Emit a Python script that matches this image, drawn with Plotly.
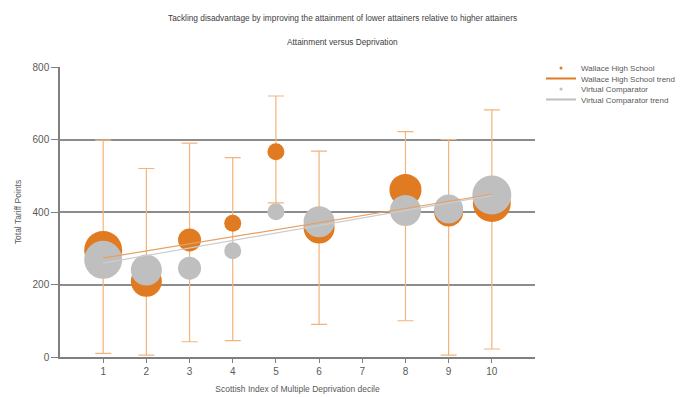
import plotly.graph_objects as go

# Attainment by SIMD decile: Wallace High School vs its Virtual Comparator
deciles = [1, 2, 3, 4, 5, 6, 8, 9, 10]

school_points = [295, 209, 323, 369, 566, 356, 461, 400, 425]
school_sizes = [38, 31, 23, 17, 17, 31, 32, 29, 38]

comparator_points = [268, 240, 245, 293, 401, 373, 404, 408, 447]
comparator_sizes = [38, 31, 23, 17, 17, 31, 31, 29, 39]

# spread of the school's results within each decile
range_high = [598, 520, 590, 550, 720, 568, 622, 600, 682]
range_low = [10, 5, 42, 45, 425, 90, 100, 5, 22]

# trend line end points (decile 1 and decile 10)
trend_x = [1, 10]
school_trend = [273, 449]
comparator_trend = [259, 446]

x_ticks = [1, 2, 3, 4, 5, 6, 7, 8, 9, 10]
y_ticks = [0, 200, 400, 600, 800]

ORANGE = "#E07B22"
GREY = "#BFBFBF"
BAR = "#F2B47C"
TEXT = "#595959"
FONT = "Liberation Sans, Arial, sans-serif"

fig = go.Figure()

# error bars sit underneath the bubbles
fig.add_trace(go.Scatter(
    x=deciles, y=school_points, mode="markers",
    marker=dict(size=1, opacity=0),
    error_y=dict(
        type="data", symmetric=False,
        array=[h - v for h, v in zip(range_high, school_points)],
        arrayminus=[v - l for v, l in zip(school_points, range_low)],
        color=BAR, thickness=1.2, width=8,
    ),
    showlegend=False, hoverinfo="skip",
))

fig.add_trace(go.Scatter(
    x=deciles, y=school_points, mode="markers",
    marker=dict(size=school_sizes, color=ORANGE, opacity=1, line=dict(width=0)),
    showlegend=False, name="Wallace High School",
))
fig.add_trace(go.Scatter(
    x=deciles, y=comparator_points, mode="markers",
    marker=dict(size=comparator_sizes, color=GREY, opacity=1, line=dict(width=0)),
    showlegend=False, name="Virtual Comparator",
))
fig.add_trace(go.Scatter(
    x=trend_x, y=comparator_trend, mode="lines",
    line=dict(color="#C9CDD2", width=1.2),
    showlegend=False, name="Virtual Comparator trend",
))
fig.add_trace(go.Scatter(
    x=trend_x, y=school_trend, mode="lines",
    line=dict(color="#E8A060", width=1.2),
    showlegend=False, name="Wallace High School trend",
))

# legend entries, one small legend per row to keep them tightly stacked
legend_rows = [
    ("Wallace High School", "markers", ORANGE),
    ("Wallace High School trend", "lines", ORANGE),
    ("Virtual Comparator", "markers", GREY),
    ("Virtual Comparator trend", "lines", GREY),
]
legend_ids = ["legend", "legend2", "legend3", "legend4"]
for (label, mode, col), lid in zip(legend_rows, legend_ids):
    kw = dict(marker=dict(size=3, color=col)) if mode == "markers" else dict(line=dict(color=col, width=2))
    fig.add_trace(go.Scatter(x=[None], y=[None], mode=mode, name=label,
                             legend=lid, showlegend=True, **kw))

legend_style = dict(
    xref="container", yref="container", xanchor="left", yanchor="middle",
    font=dict(family=FONT, size=8, color=TEXT),
    bgcolor="rgba(0,0,0,0)", borderwidth=0, itemwidth=30,
)
row_y = [68, 78.5, 89, 99.5]
layout_legends = {}
for lid, yy in zip(legend_ids, row_y):
    layout_legends[lid] = dict(legend_style, x=541 / 683, y=1 - yy / 397)

fig.update_layout(
    width=683, height=397,
    margin=dict(l=60, r=148, t=67, b=40, autoexpand=False),
    paper_bgcolor="white", plot_bgcolor="white",
    font=dict(family=FONT, size=9, color=TEXT),
    xaxis=dict(
        range=[0, 11], tickvals=x_ticks, showgrid=False, zeroline=False,
        automargin=False,
        showline=True, linecolor="#7F7F7F", linewidth=1.5,
        ticks="outside", ticklen=4, tickcolor="#7F7F7F",
        tickfont=dict(family=FONT, size=10, color=TEXT),
        title=dict(text="Scottish Index of Multiple Deprivation decile",
                   font=dict(family=FONT, size=8.5, color=TEXT), standoff=10),
    ),
    yaxis=dict(
        range=[0, 800], tickvals=y_ticks, showgrid=True,
        automargin=False,
        gridcolor="#8C8C8C", gridwidth=1.5, zeroline=False,
        showline=True, linecolor="#7F7F7F", linewidth=1.5,
        ticks="outside", ticklen=7, tickcolor="#7F7F7F",
        tickfont=dict(family=FONT, size=10, color=TEXT),
        title=dict(text="Total Tariff Points",
                   font=dict(family=FONT, size=8.5, color=TEXT), standoff=10),
    ),
    annotations=[
        dict(text="Tackling disadvantage by improving the attainment of lower attainers relative to higher attainers",
             xref="paper", yref="paper", x=(342 - 60) / 475, y=1 + (67 - 18) / 290,
             xanchor="center", yanchor="middle", showarrow=False,
             font=dict(family=FONT, size=8.3, color="#404040")),
        dict(text="Attainment versus Deprivation",
             xref="paper", yref="paper", x=(342 - 60) / 475, y=1 + (67 - 42) / 290,
             xanchor="center", yanchor="middle", showarrow=False,
             font=dict(family=FONT, size=8.3, color="#404040")),
    ],
    **layout_legends,
)

fig.write_html("out.html")
